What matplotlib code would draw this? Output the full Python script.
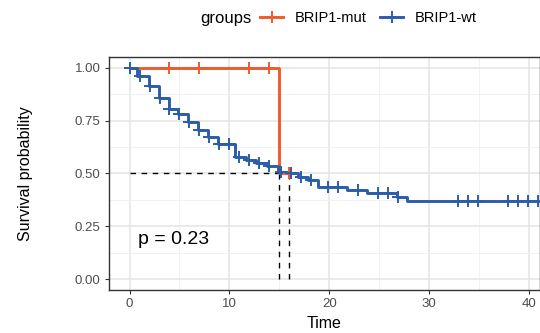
import numpy as np
import matplotlib
matplotlib.use("Agg")
import matplotlib.pyplot as plt
from matplotlib.lines import Line2D
from matplotlib.ticker import MultipleLocator, FormatStrFormatter

plt.rcParams["font.family"] = ["Liberation Sans", "DejaVu Sans"]

# --- data ---
groups = ["BRIP1-mut", "BRIP1-wt"]
colors = ["#F05A2E", "#2B5DAB"]

mut_drop_t = [15.0]
mut_drop_s = [0.5]
mut_end = 16.0
mut_cens = [0.0, 4.0, 7.0, 12.0, 14.0, 16.0]

wt_drop_t = [0.7, 1.9, 2.9, 3.9, 4.9, 5.9, 6.9, 7.9, 8.9, 10.6, 11.7, 12.7,
             13.8, 14.9, 15.9, 16.9, 17.9, 18.9, 21.8, 23.8, 26.8, 27.8]
wt_drop_s = [0.962, 0.915, 0.855, 0.806, 0.782, 0.743, 0.704, 0.673, 0.637,
             0.579, 0.563, 0.548, 0.537, 0.509, 0.500, 0.485, 0.469, 0.438,
             0.423, 0.410, 0.391, 0.370]
wt_end = 40.9
wt_cens = [0.0, 1.0, 2.0, 3.0, 4.0, 5.0, 6.0, 7.0, 8.0, 9.0, 10.0, 11.0, 12.0,
           13.0, 14.0, 15.2, 16.2, 17.2, 18.2, 19.9, 20.9, 22.9, 24.9, 25.9,
           26.9, 32.9, 33.9, 34.9, 37.9, 38.9, 39.9, 40.9]

medians = [15.0, 16.0]
pval_text = "p = 0.23"


def step_curve(drop_t, drop_s, end):
    t = np.array([0.0] + list(drop_t) + [end])
    s = np.array([1.0] + list(drop_s) + [drop_s[-1]])
    return t, s


def surv_at(t, s, x):
    idx = np.searchsorted(t, x, side="right") - 1
    return s[np.clip(idx, 0, len(s) - 1)]


fig = plt.figure(figsize=(5.4, 3.33), dpi=100)
ax = fig.add_axes([0.202, 0.129, 0.798, 0.70])

curves = [(mut_drop_t, mut_drop_s, mut_end, mut_cens),
          (wt_drop_t, wt_drop_s, wt_end, wt_cens)]
for (dt, ds, end, cens), col in zip(curves, colors):
    t, s = step_curve(dt, ds, end)
    ax.step(t, s, where="post", color=col, lw=2.1, zorder=3)
    c = np.array(cens)
    ax.plot(c, surv_at(t, s, c), ls="none", marker="+", ms=8.5, mew=1.4,
            color=col, zorder=4)

# median lines
ax.plot([0, max(medians)], [0.5, 0.5], color="black", ls=(0, (4, 4)), lw=1.0, zorder=2)
for m in medians:
    ax.plot([m, m], [0, 0.5], color="black", ls=(0, (4, 4)), lw=1.0, zorder=2)

ax.text(0.8, 0.19, pval_text, fontsize=14, va="center", ha="left")

ax.set_xlim(-2.05, 41.1)
ax.set_ylim(-0.05, 1.05)
ax.xaxis.set_major_locator(MultipleLocator(10))
ax.xaxis.set_minor_locator(MultipleLocator(5))
ax.yaxis.set_major_locator(MultipleLocator(0.25))
ax.yaxis.set_minor_locator(MultipleLocator(0.125))
ax.yaxis.set_major_formatter(FormatStrFormatter("%.2f"))
ax.grid(which="major", color="#E4E4E4", lw=1.1)
ax.grid(which="minor", color="#F0F0F0", lw=0.6)
ax.set_axisbelow(True)
for sp in ax.spines.values():
    sp.set_color("#333333")
    sp.set_linewidth(1.0)
ax.tick_params(which="major", length=3, color="#333333", labelsize=9.5,
               labelcolor="#4D4D4D", pad=3)
ax.tick_params(which="minor", length=0)
ax.set_xlabel("Time", fontsize=11.5, labelpad=4)
ax.set_ylabel("Survival probability", fontsize=11.5, labelpad=30)

# legend on top
fig.text(200 / 540, 1 - 18 / 333, "groups", fontsize=12, va="center", ha="left")
handles = [Line2D([], [], color=c, lw=2.1, marker="+", ms=9, mew=1.4) for c in colors]
fig.legend(handles, groups, loc="center left", bbox_to_anchor=(260 / 540, 1 - 18 / 333),
           ncol=2, frameon=False, fontsize=10.5, handlelength=1.6, handletextpad=0.8,
           columnspacing=0.9, borderpad=0, borderaxespad=0)

fig.savefig("out.png", dpi=100)
